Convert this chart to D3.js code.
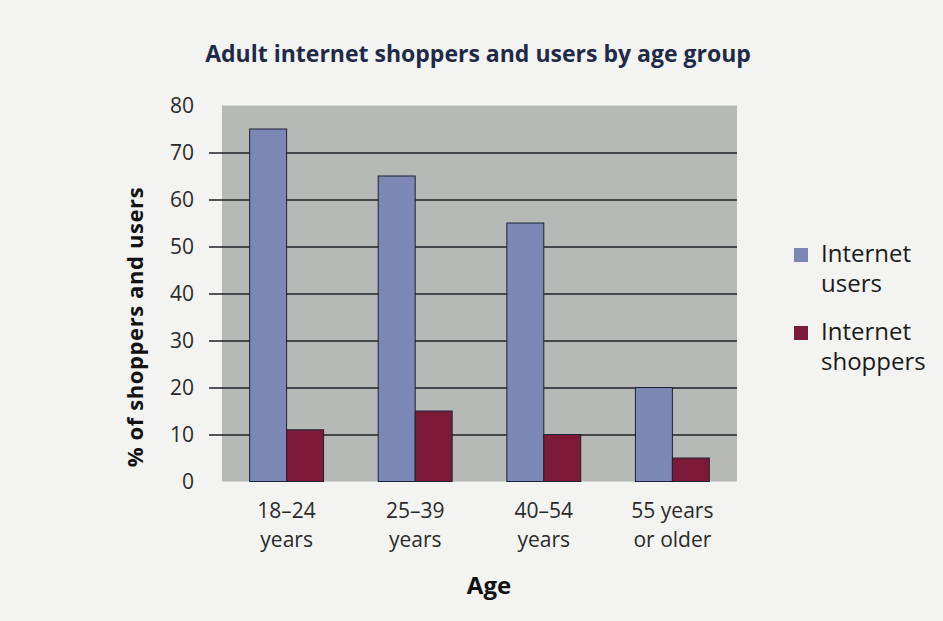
<!DOCTYPE html>
<html><head><meta charset="utf-8">
<script src="https://cdn.jsdelivr.net/npm/d3@7"></script>
<style>
html,body{margin:0;padding:0;background:#f3f3f1;}
svg{display:block;}
</style></head>
<body>
<svg id="chart" width="943" height="621"></svg>
<script>
const categories = [["18–24","years"],["25–39","years"],["40–54","years"],["55 years","or older"]];
const seriesNames = [["Internet","users"],["Internet","shoppers"]];
const usersValues = [75, 65, 55, 20];
const shoppersValues = [11, 15, 10, 5];
const yTicks = [0,10,20,30,40,50,60,70,80];

const colors = ["#7b87b5", "#7c1a38"];
const svg = d3.select("#chart");
const W = 943, H = 621;
svg.append("rect").attr("width", W).attr("height", H).attr("fill", "#f3f3f1");

const plot = {left: 222, right: 737, top: 105.5, bottom: 481.5};
const font = "'Open Sans', sans-serif";

const x0 = d3.scaleBand().domain(d3.range(categories.length))
  .range([plot.left, plot.right]).paddingInner(0.425).paddingOuter(0.215);
const x1 = d3.scaleBand().domain([0,1]).range([0, x0.bandwidth()]);
const y = d3.scaleLinear().domain([0, 80]).range([plot.bottom, plot.top]);

// plot background
svg.append("rect").attr("x", plot.left).attr("y", plot.top)
  .attr("width", plot.right - plot.left).attr("height", plot.bottom - plot.top)
  .attr("fill", "#b6b9b6");

// gridlines + ticks
const yAxis = d3.axisLeft(y).tickValues(yTicks.filter(t => t > 0 && t < 80))
  .tickSize(-(plot.right - plot.left)).tickFormat("");
const ga = svg.append("g").attr("transform", `translate(${plot.left},0)`).call(yAxis);
ga.select(".domain").remove();
ga.selectAll(".tick line").attr("stroke", "#1e2226").attr("stroke-width", 1.6)
  .attr("x1", -13);

// tick labels
svg.append("g").selectAll("text").data(yTicks).join("text")
  .attr("x", 194).attr("y", d => y(d)).attr("dy", "0.36em")
  .attr("text-anchor", "end").attr("font-family", font).attr("font-size", 21)
  .attr("fill", "#2a2a2a").text(d => d);

// bars
const data = categories.map((c, i) => [usersValues[i], shoppersValues[i]]);
const groups = svg.append("g").selectAll("g").data(data).join("g")
  .attr("transform", (d, i) => `translate(${x0(i)},0)`);
groups.selectAll("rect").data(d => d.map((v, k) => ({v, k}))).join("rect")
  .attr("x", d => x1(d.k)).attr("width", x1.bandwidth())
  .attr("y", d => y(d.v)).attr("height", d => y(0) - y(d.v))
  .attr("fill", d => colors[d.k]).attr("stroke", "#1c2236").attr("stroke-width", 1);

// x labels
const xl = svg.append("g").selectAll("text").data(categories).join("text")
  .attr("x", (d, i) => x0(i) + x0.bandwidth() / 2).attr("y", 518)
  .attr("text-anchor", "middle").attr("font-family", font).attr("font-size", 21)
  .attr("fill", "#2a2a2a");
xl.append("tspan").attr("x", (d, i) => x0(i) + x0.bandwidth() / 2).text(d => d[0]);
xl.append("tspan").attr("x", (d, i) => x0(i) + x0.bandwidth() / 2).attr("dy", 29).text(d => d[1]);

// title
svg.append("text").attr("x", 478).attr("y", 62).attr("text-anchor", "middle")
  .attr("font-family", font).attr("font-weight", "bold").attr("font-size", 23)
  .attr("fill", "#1f2a48").text("Adult internet shoppers and users by age group");

// y title
svg.append("text").attr("transform", "translate(143,327) rotate(-90)")
  .attr("text-anchor", "middle").attr("font-family", font)
  .attr("font-weight", "bold").attr("font-size", 22).attr("letter-spacing", 0.6)
  .attr("fill", "#111")
  .text("% of shoppers and users");

// x title
svg.append("text").attr("x", 489).attr("y", 594).attr("text-anchor", "middle")
  .attr("font-family", font).attr("font-weight", "bold").attr("font-size", 24)
  .attr("fill", "#111").text("Age");

// legend
const leg = svg.append("g").selectAll("g").data(seriesNames).join("g")
  .attr("transform", (d, i) => `translate(794,${248 + i * 78})`);
leg.append("rect").attr("width", 14).attr("height", 14).attr("y", 0)
  .attr("fill", (d, i) => colors[i]);
const lt = leg.append("text").attr("x", 27).attr("y", 14)
  .attr("font-family", font).attr("font-size", 24).attr("fill", "#1a1a1a");
lt.append("tspan").attr("x", 27).text(d => d[0]);
lt.append("tspan").attr("x", 27).attr("dy", 30).text(d => d[1]);
</script>
</body></html>
